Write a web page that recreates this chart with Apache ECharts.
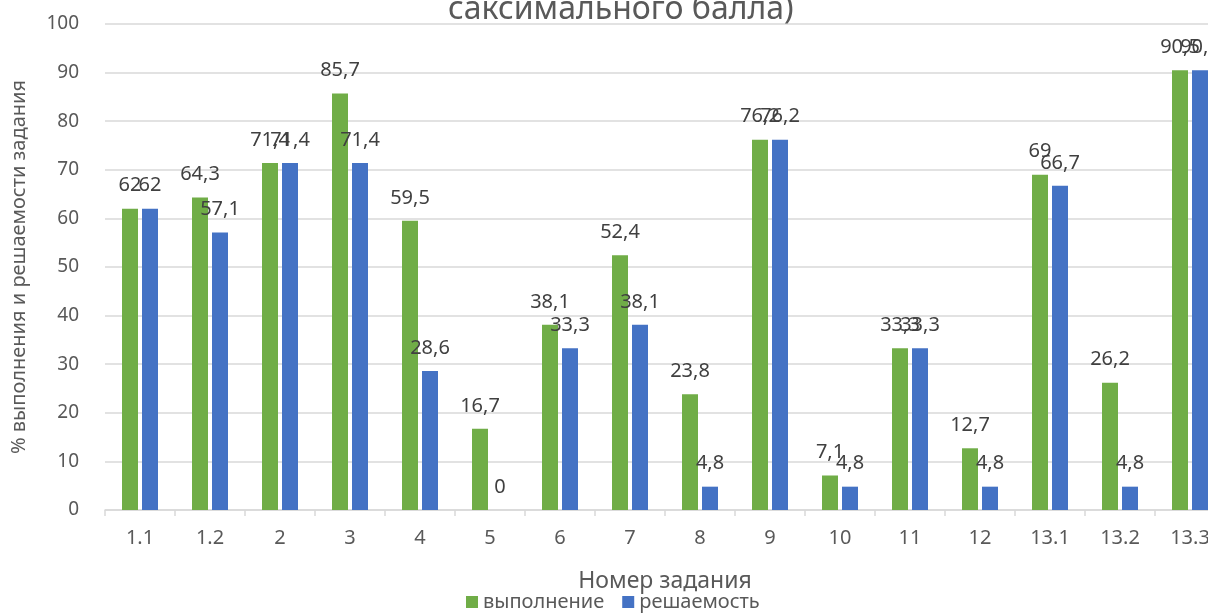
<!DOCTYPE html>
<html>
<head>
<meta charset="utf-8">
<script src="https://cdn.jsdelivr.net/npm/echarts@6/dist/echarts.min.js"></script>
<style>
html,body{margin:0;padding:0;background:#fff;}
#c{width:1208px;height:613px;}
</style>
</head>
<body>
<div id="c"></div>
<script>
const categories = ['1.1','1.2','2','3','4','5','6','7','8','9','10','11','12','13.1','13.2','13.3'];
const vypolnenie = [62, 64.3, 71.4, 85.7, 59.5, 16.7, 38.1, 52.4, 23.8, 76.2, 7.1, 33.3, 12.7, 69, 26.2, 90.5];
const reshaemost = [62, 57.1, 71.4, 71.4, 28.6, 0, 33.3, 38.1, 4.8, 76.2, 4.8, 33.3, 4.8, 66.7, 4.8, 90.5];
const seriesNames = ['выполнение', 'решаемость'];
const titleText = 'саксимального балла)';
const xName = 'Номер задания';
const yName = '% выполнения и решаемости задания';

const FONT = 'Noto Sans';
const fmt = p => String(p.value).replace('.', ',');
const labelStyle = {
  show: true, position: 'top', distance: 13, formatter: fmt,
  color: '#404040', fontSize: 20, fontFamily: FONT
};

const chart = echarts.init(document.getElementById('c'), null, {renderer: 'canvas'});
chart.setOption({
  animation: false,
  backgroundColor: '#fff',
  title: {
    text: titleText, left: 443, top: -11,
    textStyle: {fontSize: 32, fontWeight: 'normal', color: '#595959', fontFamily: FONT}
  },
  legend: {
    data: seriesNames, bottom: -4, left: 461,
    itemWidth: 12, itemHeight: 12, itemGap: 18,
    textStyle: {fontSize: 20, color: '#595959', fontFamily: FONT},
    icon: 'rect'
  },
  grid: {left: 105, width: 1120, top: 24, bottom: 103, outerBoundsMode: 'none', containLabel: false},
  xAxis: {
    type: 'category', data: categories,
    name: xName, nameLocation: 'middle', nameGap: 60,
    nameTextStyle: {fontSize: 23, color: '#595959', fontFamily: FONT},
    axisLine: {lineStyle: {color: '#D9D9D9', width: 1.5}},
    axisTick: {show: true, length: 6, lineStyle: {color: '#D9D9D9', width: 1.5}},
    axisLabel: {fontSize: 20, color: '#595959', fontFamily: FONT, margin: 18}
  },
  yAxis: {
    type: 'value', min: 0, max: 100, interval: 10,
    name: yName, nameLocation: 'middle', nameGap: 76, nameRotate: 90,
    nameTextStyle: {fontSize: 20, color: '#595959', fontFamily: FONT},
    axisLine: {show: false}, axisTick: {show: false},
    splitLine: {lineStyle: {color: '#D9D9D9', width: 1.5}},
    axisLabel: {fontSize: 19, color: '#595959', fontFamily: FONT, margin: 26}
  },
  series: [
    {name: seriesNames[0], type: 'bar', data: vypolnenie, barWidth: 16, barGap: '25%',
     itemStyle: {color: '#70AD47'}, label: labelStyle},
    {name: seriesNames[1], type: 'bar', data: reshaemost, barWidth: 16, barGap: '25%',
     itemStyle: {color: '#4472C4'}, label: labelStyle}
  ]
});
</script>
</body>
</html>
